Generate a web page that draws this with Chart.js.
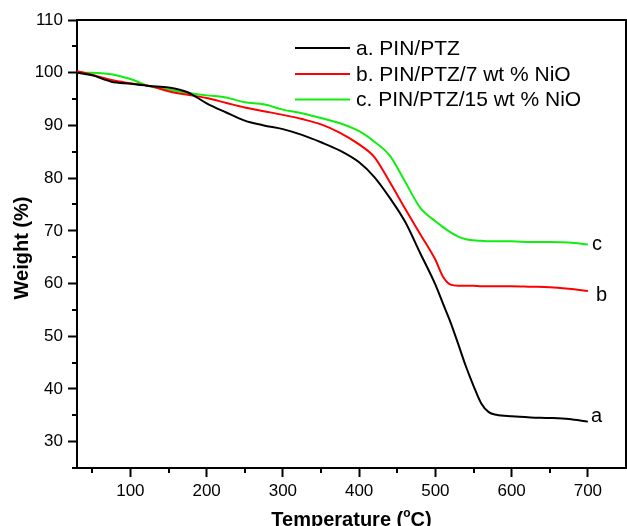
<!DOCTYPE html>
<html><head><meta charset="utf-8">
<script src="https://cdn.jsdelivr.net/npm/chart.js@4/dist/chart.umd.min.js"></script>
<style>html,body{margin:0;padding:0;background:#fff;overflow:hidden}#wrap{width:627px;height:526px;position:relative}</style>
</head><body><div id="wrap"><canvas id="c" width="627" height="526"></canvas></div>
<script>
const temperature = [30,50,75,100,125,150,175,200,225,250,275,300,325,350,375,400,420,440,460,480,500,510,520,530,540,550,560,570,580,600,625,650,675,700];
const weightA = [100,99.5,98.3,97.9,97.5,97.2,96.3,94.2,92.5,90.9,90.0,89.3,88.2,86.8,85.2,83.0,80.2,76.3,71.8,65.8,59.8,56.2,52.6,48.5,44.3,40.6,37.3,35.6,35.1,34.8,34.6,34.5,34.3,33.8];
const weightB = [100.3,99.6,98.6,98.0,97.5,96.5,95.8,95.2,94.3,93.4,92.7,92.0,91.2,90.2,88.6,86.4,84.0,79.3,74.3,69.4,64.5,61.3,59.8,59.6,59.6,59.6,59.5,59.5,59.5,59.5,59.4,59.3,59.0,58.6];
const weightC = [100,100,99.7,98.8,97.4,96.8,96.2,95.7,95.3,94.4,94.0,93.0,92.3,91.4,90.4,88.9,86.9,84.3,79.4,74.4,71.8,70.7,69.7,68.9,68.4,68.2,68.1,68.0,68.0,68.0,67.9,67.9,67.8,67.4];
const seriesLabels = ['a. PIN/PTZ','b. PIN/PTZ/7 wt % NiO','c. PIN/PTZ/15 wt % NiO'];
const curveTags = ['a','b','c'];
const xTickValues = [100,200,300,400,500,600,700];
const xMinorTicks = [50,150,250,350,450,550,650];
const yTickValues = [30,40,50,60,70,80,90,100,110];
const yMinorTicks = [35,45,55,65,75,85,95,105];
const xTitle = ['Temperature (','o','C)'];
const yTitle = 'Weight (%)';

const colors = ['#000000','#ff0000','#10ee10'];
const tagOffsets = [[3,-5],[8,5],[4,0]];
const FONT = "'Liberation Sans', Arial, sans-serif";

const series = [weightA, weightB, weightC];
const datasets = series.map((vals,i)=>({
  label: seriesLabels[i],
  data: temperature.map((t,k)=>({x:t,y:vals[k]})),
  borderColor: colors[i],
  borderWidth: 2,
  pointRadius: 0,
  fill: false,
  cubicInterpolationMode: 'monotone'
}));

const decor = {
  id:'decor',
  afterDraw(chart){
    const ctx = chart.ctx, a = chart.chartArea;
    const xs = chart.scales.x, ys = chart.scales.y;
    ctx.save();
    ctx.strokeStyle = '#000';
    ctx.lineWidth = 2;
    ctx.beginPath();
    ctx.moveTo(a.left, a.top); ctx.lineTo(a.right, a.top); ctx.lineTo(a.right, a.bottom);
    ctx.stroke();
    ctx.beginPath(); ctx.moveTo(a.left-5, a.bottom); ctx.lineTo(a.left, a.bottom); ctx.stroke();
    ctx.beginPath();
    xMinorTicks.forEach(v=>{const x=Math.round(xs.getPixelForValue(v)); ctx.moveTo(x,a.bottom); ctx.lineTo(x,a.bottom+5);});
    yMinorTicks.forEach(v=>{const y=Math.round(ys.getPixelForValue(v)); ctx.moveTo(a.left-5,y); ctx.lineTo(a.left,y);});
    ctx.stroke();
    // axis titles
    ctx.fillStyle = '#000';
    ctx.font = 'bold 20px ' + FONT;
    const w0 = ctx.measureText(xTitle[0]).width;
    ctx.font = 'bold 12px ' + FONT;
    const w1 = ctx.measureText(xTitle[1]).width;
    ctx.font = 'bold 20px ' + FONT;
    const w2 = ctx.measureText(xTitle[2]).width;
    const cx = (a.left+a.right)/2;
    const sx = cx - (w0+w1+w2)/2;
    const by = 526;
    ctx.textBaseline = 'alphabetic';
    ctx.textAlign = 'left';
    ctx.fillText(xTitle[0], sx, by);
    ctx.font = 'bold 12px ' + FONT;
    ctx.fillText(xTitle[1], sx+w0, by-9);
    ctx.font = 'bold 20px ' + FONT;
    ctx.fillText(xTitle[2], sx+w0+w1, by);
    ctx.save();
    ctx.translate(22, (a.top+a.bottom)/2 + 4);
    ctx.rotate(-Math.PI/2);
    ctx.textAlign = 'center'; ctx.textBaseline = 'middle';
    ctx.fillText(yTitle, 0, 0);
    ctx.restore();
    // legend
    ctx.font = '21px ' + FONT;
    ctx.textAlign = 'left'; ctx.textBaseline = 'middle';
    const rows = [48,74,99.5];
    chart.data.datasets.forEach((d,i)=>{
      ctx.strokeStyle = d.borderColor; ctx.lineWidth = 2;
      ctx.beginPath(); ctx.moveTo(295, rows[i]); ctx.lineTo(350, rows[i]); ctx.stroke();
      ctx.fillStyle = '#000';
      ctx.fillText(d.label, 356, rows[i]+1);
    });
    // curve tags
    ctx.font = '20px ' + FONT;
    series.forEach((vals,i)=>{
      const t = temperature[temperature.length-1], v = vals[vals.length-1];
      const x = xs.getPixelForValue(t) + tagOffsets[i][0];
      const y = ys.getPixelForValue(v) + tagOffsets[i][1];
      ctx.fillText(curveTags[i], x, y);
    });
    ctx.restore();
  }
};

new Chart(document.getElementById('c'), {
  type:'line',
  data:{datasets},
  options:{
    responsive:false, animation:false, devicePixelRatio:1,
    layout:{padding:{top:20,right:1,left:0,bottom:0}},
    plugins:{legend:{display:false}, tooltip:{enabled:false}},
    scales:{
      x:{type:'linear', min:30, max:750,
        afterFit(s){s.height=58;},
        afterBuildTicks(s){s.ticks = xTickValues.map(v=>({value:v}));},
        ticks:{font:{family:FONT,size:17}, color:'#000', padding:4, maxRotation:0, autoSkip:false},
        grid:{drawOnChartArea:false, tickLength:9, tickWidth:2, tickColor:'#000'},
        border:{color:'#000', width:2}
      },
      y:{type:'linear', min:25, max:110,
        afterFit(s){s.width=77;},
        afterBuildTicks(s){s.ticks = yTickValues.map(v=>({value:v}));},
        ticks:{font:{family:FONT,size:17}, color:'#000', padding:5, autoSkip:false},
        grid:{drawOnChartArea:false, tickLength:9, tickWidth:2, tickColor:'#000'},
        border:{color:'#000', width:2}
      }
    }
  },
  plugins:[decor]
});
</script></body></html>
